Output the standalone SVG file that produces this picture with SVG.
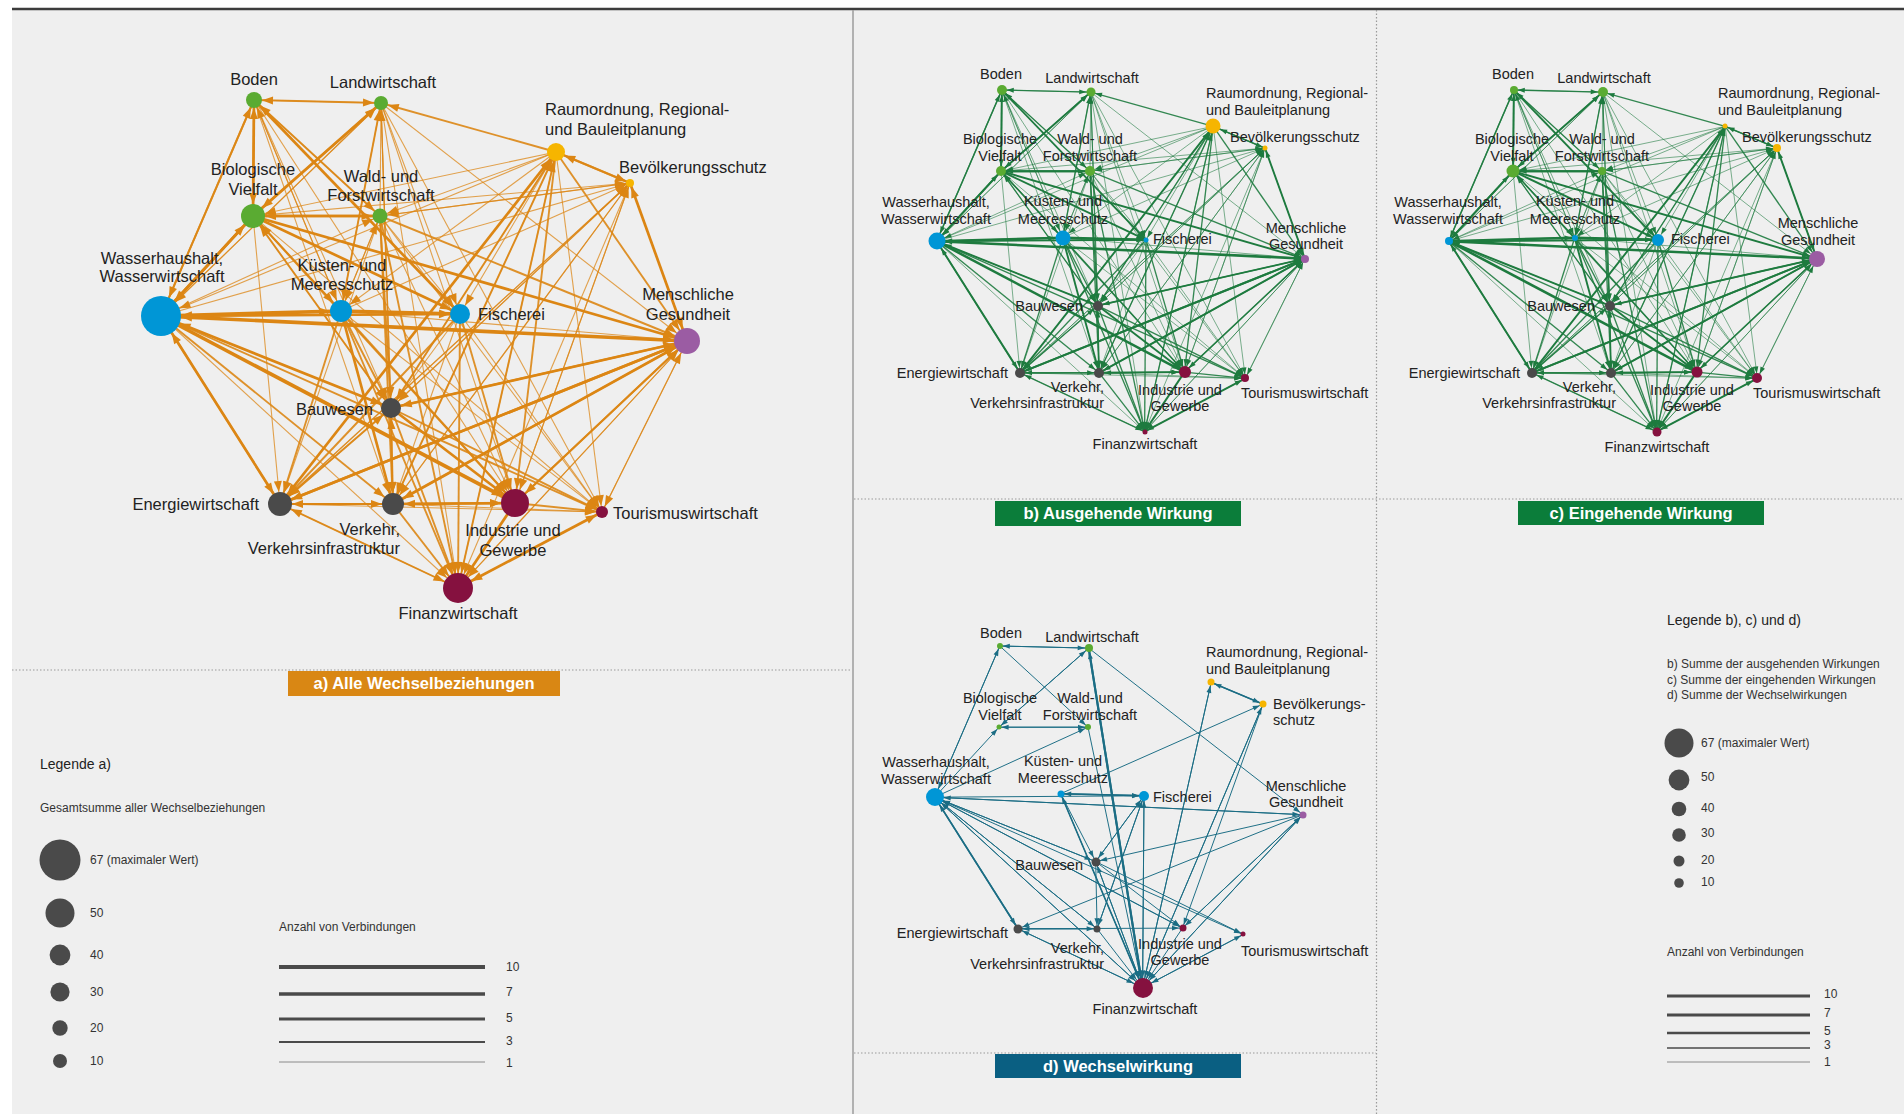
<svg xmlns="http://www.w3.org/2000/svg" width="1904" height="1114" viewBox="0 0 1904 1114">
<style>
marker{overflow:visible}
.cg{fill:#5aab32}.cy{fill:#f6b500}.cb{fill:#0096d6}.cp{fill:#9b5ca3}.cd{fill:#4a4a4a}.cm{fill:#85113f}
text{font-family:"Liberation Sans",Arial,sans-serif;fill:#222}
.la{font-size:16.5px}.lb{font-size:14.5px}.mid{text-anchor:middle}.end{text-anchor:end}
.ttl{font-size:16.5px;font-weight:bold;fill:#fff;text-anchor:middle}
.lg{font-size:12px;fill:#333}.lgh{font-size:14px;fill:#222}
.dot{stroke:#9a9a9a;stroke-width:1.2;stroke-dasharray:1.5 2;fill:none}
.lgc{fill:#4a4a4a}
</style>
<defs>
<marker id="ma0" markerUnits="userSpaceOnUse" orient="auto" refX="19" refY="4" markerWidth="11" markerHeight="8"><path d="M0 0L11 4L0 8z" fill="#dc8614"/></marker>
<marker id="ma1" markerUnits="userSpaceOnUse" orient="auto" refX="18" refY="4" markerWidth="11" markerHeight="8"><path d="M0 0L11 4L0 8z" fill="#dc8614"/></marker>
<marker id="ma2" markerUnits="userSpaceOnUse" orient="auto" refX="20" refY="4" markerWidth="11" markerHeight="8"><path d="M0 0L11 4L0 8z" fill="#dc8614"/></marker>
<marker id="ma3" markerUnits="userSpaceOnUse" orient="auto" refX="15" refY="4" markerWidth="11" markerHeight="8"><path d="M0 0L11 4L0 8z" fill="#dc8614"/></marker>
<marker id="ma4" markerUnits="userSpaceOnUse" orient="auto" refX="23" refY="4" markerWidth="11" markerHeight="8"><path d="M0 0L11 4L0 8z" fill="#dc8614"/></marker>
<marker id="ma5" markerUnits="userSpaceOnUse" orient="auto" refX="18.5" refY="4" markerWidth="11" markerHeight="8"><path d="M0 0L11 4L0 8z" fill="#dc8614"/></marker>
<marker id="ma6" markerUnits="userSpaceOnUse" orient="auto" refX="31" refY="4" markerWidth="11" markerHeight="8"><path d="M0 0L11 4L0 8z" fill="#dc8614"/></marker>
<marker id="ma7" markerUnits="userSpaceOnUse" orient="auto" refX="22" refY="4" markerWidth="11" markerHeight="8"><path d="M0 0L11 4L0 8z" fill="#dc8614"/></marker>
<marker id="ma8" markerUnits="userSpaceOnUse" orient="auto" refX="21" refY="4" markerWidth="11" markerHeight="8"><path d="M0 0L11 4L0 8z" fill="#dc8614"/></marker>
<marker id="ma9" markerUnits="userSpaceOnUse" orient="auto" refX="24" refY="4" markerWidth="11" markerHeight="8"><path d="M0 0L11 4L0 8z" fill="#dc8614"/></marker>
<marker id="ma10" markerUnits="userSpaceOnUse" orient="auto" refX="21" refY="4" markerWidth="11" markerHeight="8"><path d="M0 0L11 4L0 8z" fill="#dc8614"/></marker>
<marker id="ma11" markerUnits="userSpaceOnUse" orient="auto" refX="23" refY="4" markerWidth="11" markerHeight="8"><path d="M0 0L11 4L0 8z" fill="#dc8614"/></marker>
<marker id="ma12" markerUnits="userSpaceOnUse" orient="auto" refX="22" refY="4" markerWidth="11" markerHeight="8"><path d="M0 0L11 4L0 8z" fill="#dc8614"/></marker>
<marker id="ma13" markerUnits="userSpaceOnUse" orient="auto" refX="25" refY="4" markerWidth="11" markerHeight="8"><path d="M0 0L11 4L0 8z" fill="#dc8614"/></marker>
<marker id="ma14" markerUnits="userSpaceOnUse" orient="auto" refX="17" refY="4" markerWidth="11" markerHeight="8"><path d="M0 0L11 4L0 8z" fill="#dc8614"/></marker>
<marker id="ma15" markerUnits="userSpaceOnUse" orient="auto" refX="26" refY="4" markerWidth="11" markerHeight="8"><path d="M0 0L11 4L0 8z" fill="#dc8614"/></marker>

<marker id="mb0" markerUnits="userSpaceOnUse" orient="auto" refX="17.1" refY="3.5" markerWidth="10" markerHeight="7"><path d="M0 0L10 3.5L0 7z" fill="#1e7b3f"/></marker>
<marker id="mb1" markerUnits="userSpaceOnUse" orient="auto" refX="16.4" refY="3.5" markerWidth="10" markerHeight="7"><path d="M0 0L10 3.5L0 7z" fill="#1e7b3f"/></marker>
<marker id="mb2" markerUnits="userSpaceOnUse" orient="auto" refX="20.7" refY="3.5" markerWidth="10" markerHeight="7"><path d="M0 0L10 3.5L0 7z" fill="#1e7b3f"/></marker>
<marker id="mb3" markerUnits="userSpaceOnUse" orient="auto" refX="13.6" refY="3.5" markerWidth="10" markerHeight="7"><path d="M0 0L10 3.5L0 7z" fill="#1e7b3f"/></marker>
<marker id="mb4" markerUnits="userSpaceOnUse" orient="auto" refX="17.1" refY="3.5" markerWidth="10" markerHeight="7"><path d="M0 0L10 3.5L0 7z" fill="#1e7b3f"/></marker>
<marker id="mb5" markerUnits="userSpaceOnUse" orient="auto" refX="17.1" refY="3.5" markerWidth="10" markerHeight="7"><path d="M0 0L10 3.5L0 7z" fill="#1e7b3f"/></marker>
<marker id="mb6" markerUnits="userSpaceOnUse" orient="auto" refX="22.1" refY="3.5" markerWidth="10" markerHeight="7"><path d="M0 0L10 3.5L0 7z" fill="#1e7b3f"/></marker>
<marker id="mb7" markerUnits="userSpaceOnUse" orient="auto" refX="20.7" refY="3.5" markerWidth="10" markerHeight="7"><path d="M0 0L10 3.5L0 7z" fill="#1e7b3f"/></marker>
<marker id="mb8" markerUnits="userSpaceOnUse" orient="auto" refX="13.6" refY="3.5" markerWidth="10" markerHeight="7"><path d="M0 0L10 3.5L0 7z" fill="#1e7b3f"/></marker>
<marker id="mb9" markerUnits="userSpaceOnUse" orient="auto" refX="15.7" refY="3.5" markerWidth="10" markerHeight="7"><path d="M0 0L10 3.5L0 7z" fill="#1e7b3f"/></marker>
<marker id="mb10" markerUnits="userSpaceOnUse" orient="auto" refX="17.1" refY="3.5" markerWidth="10" markerHeight="7"><path d="M0 0L10 3.5L0 7z" fill="#1e7b3f"/></marker>
<marker id="mb11" markerUnits="userSpaceOnUse" orient="auto" refX="17.1" refY="3.5" markerWidth="10" markerHeight="7"><path d="M0 0L10 3.5L0 7z" fill="#1e7b3f"/></marker>
<marker id="mb12" markerUnits="userSpaceOnUse" orient="auto" refX="17.1" refY="3.5" markerWidth="10" markerHeight="7"><path d="M0 0L10 3.5L0 7z" fill="#1e7b3f"/></marker>
<marker id="mb13" markerUnits="userSpaceOnUse" orient="auto" refX="18.6" refY="3.5" markerWidth="10" markerHeight="7"><path d="M0 0L10 3.5L0 7z" fill="#1e7b3f"/></marker>
<marker id="mb14" markerUnits="userSpaceOnUse" orient="auto" refX="15.7" refY="3.5" markerWidth="10" markerHeight="7"><path d="M0 0L10 3.5L0 7z" fill="#1e7b3f"/></marker>
<marker id="mb15" markerUnits="userSpaceOnUse" orient="auto" refX="13.6" refY="3.5" markerWidth="10" markerHeight="7"><path d="M0 0L10 3.5L0 7z" fill="#1e7b3f"/></marker>

<marker id="mc0" markerUnits="userSpaceOnUse" orient="auto" refX="15.7" refY="3.5" markerWidth="10" markerHeight="7"><path d="M0 0L10 3.5L0 7z" fill="#1e7b3f"/></marker>
<marker id="mc1" markerUnits="userSpaceOnUse" orient="auto" refX="17.1" refY="3.5" markerWidth="10" markerHeight="7"><path d="M0 0L10 3.5L0 7z" fill="#1e7b3f"/></marker>
<marker id="mc2" markerUnits="userSpaceOnUse" orient="auto" refX="13.6" refY="3.5" markerWidth="10" markerHeight="7"><path d="M0 0L10 3.5L0 7z" fill="#1e7b3f"/></marker>
<marker id="mc3" markerUnits="userSpaceOnUse" orient="auto" refX="15.7" refY="3.5" markerWidth="10" markerHeight="7"><path d="M0 0L10 3.5L0 7z" fill="#1e7b3f"/></marker>
<marker id="mc4" markerUnits="userSpaceOnUse" orient="auto" refX="19.3" refY="3.5" markerWidth="10" markerHeight="7"><path d="M0 0L10 3.5L0 7z" fill="#1e7b3f"/></marker>
<marker id="mc5" markerUnits="userSpaceOnUse" orient="auto" refX="15.7" refY="3.5" markerWidth="10" markerHeight="7"><path d="M0 0L10 3.5L0 7z" fill="#1e7b3f"/></marker>
<marker id="mc6" markerUnits="userSpaceOnUse" orient="auto" refX="15.7" refY="3.5" markerWidth="10" markerHeight="7"><path d="M0 0L10 3.5L0 7z" fill="#1e7b3f"/></marker>
<marker id="mc7" markerUnits="userSpaceOnUse" orient="auto" refX="14.3" refY="3.5" markerWidth="10" markerHeight="7"><path d="M0 0L10 3.5L0 7z" fill="#1e7b3f"/></marker>
<marker id="mc8" markerUnits="userSpaceOnUse" orient="auto" refX="18.6" refY="3.5" markerWidth="10" markerHeight="7"><path d="M0 0L10 3.5L0 7z" fill="#1e7b3f"/></marker>
<marker id="mc9" markerUnits="userSpaceOnUse" orient="auto" refX="21.4" refY="3.5" markerWidth="10" markerHeight="7"><path d="M0 0L10 3.5L0 7z" fill="#1e7b3f"/></marker>
<marker id="mc10" markerUnits="userSpaceOnUse" orient="auto" refX="17.1" refY="3.5" markerWidth="10" markerHeight="7"><path d="M0 0L10 3.5L0 7z" fill="#1e7b3f"/></marker>
<marker id="mc11" markerUnits="userSpaceOnUse" orient="auto" refX="17.1" refY="3.5" markerWidth="10" markerHeight="7"><path d="M0 0L10 3.5L0 7z" fill="#1e7b3f"/></marker>
<marker id="mc12" markerUnits="userSpaceOnUse" orient="auto" refX="17.1" refY="3.5" markerWidth="10" markerHeight="7"><path d="M0 0L10 3.5L0 7z" fill="#1e7b3f"/></marker>
<marker id="mc13" markerUnits="userSpaceOnUse" orient="auto" refX="17.9" refY="3.5" markerWidth="10" markerHeight="7"><path d="M0 0L10 3.5L0 7z" fill="#1e7b3f"/></marker>
<marker id="mc14" markerUnits="userSpaceOnUse" orient="auto" refX="17.1" refY="3.5" markerWidth="10" markerHeight="7"><path d="M0 0L10 3.5L0 7z" fill="#1e7b3f"/></marker>
<marker id="mc15" markerUnits="userSpaceOnUse" orient="auto" refX="16.4" refY="3.5" markerWidth="10" markerHeight="7"><path d="M0 0L10 3.5L0 7z" fill="#1e7b3f"/></marker>

<marker id="md0" markerUnits="userSpaceOnUse" orient="auto" refX="14.3" refY="3.5" markerWidth="10" markerHeight="7"><path d="M0 0L10 3.5L0 7z" fill="#1b6d84"/></marker>
<marker id="md1" markerUnits="userSpaceOnUse" orient="auto" refX="15.7" refY="3.5" markerWidth="10" markerHeight="7"><path d="M0 0L10 3.5L0 7z" fill="#1b6d84"/></marker>
<marker id="md2" markerUnits="userSpaceOnUse" orient="auto" refX="15" refY="3.5" markerWidth="10" markerHeight="7"><path d="M0 0L10 3.5L0 7z" fill="#1b6d84"/></marker>
<marker id="md3" markerUnits="userSpaceOnUse" orient="auto" refX="15" refY="3.5" markerWidth="10" markerHeight="7"><path d="M0 0L10 3.5L0 7z" fill="#1b6d84"/></marker>
<marker id="md4" markerUnits="userSpaceOnUse" orient="auto" refX="13.6" refY="3.5" markerWidth="10" markerHeight="7"><path d="M0 0L10 3.5L0 7z" fill="#1b6d84"/></marker>
<marker id="md5" markerUnits="userSpaceOnUse" orient="auto" refX="14.3" refY="3.5" markerWidth="10" markerHeight="7"><path d="M0 0L10 3.5L0 7z" fill="#1b6d84"/></marker>
<marker id="md6" markerUnits="userSpaceOnUse" orient="auto" refX="22.9" refY="3.5" markerWidth="10" markerHeight="7"><path d="M0 0L10 3.5L0 7z" fill="#1b6d84"/></marker>
<marker id="md7" markerUnits="userSpaceOnUse" orient="auto" refX="15" refY="3.5" markerWidth="10" markerHeight="7"><path d="M0 0L10 3.5L0 7z" fill="#1b6d84"/></marker>
<marker id="md8" markerUnits="userSpaceOnUse" orient="auto" refX="17.1" refY="3.5" markerWidth="10" markerHeight="7"><path d="M0 0L10 3.5L0 7z" fill="#1b6d84"/></marker>
<marker id="md9" markerUnits="userSpaceOnUse" orient="auto" refX="15" refY="3.5" markerWidth="10" markerHeight="7"><path d="M0 0L10 3.5L0 7z" fill="#1b6d84"/></marker>
<marker id="md10" markerUnits="userSpaceOnUse" orient="auto" refX="16.4" refY="3.5" markerWidth="10" markerHeight="7"><path d="M0 0L10 3.5L0 7z" fill="#1b6d84"/></marker>
<marker id="md11" markerUnits="userSpaceOnUse" orient="auto" refX="16.4" refY="3.5" markerWidth="10" markerHeight="7"><path d="M0 0L10 3.5L0 7z" fill="#1b6d84"/></marker>
<marker id="md12" markerUnits="userSpaceOnUse" orient="auto" refX="15" refY="3.5" markerWidth="10" markerHeight="7"><path d="M0 0L10 3.5L0 7z" fill="#1b6d84"/></marker>
<marker id="md13" markerUnits="userSpaceOnUse" orient="auto" refX="15" refY="3.5" markerWidth="10" markerHeight="7"><path d="M0 0L10 3.5L0 7z" fill="#1b6d84"/></marker>
<marker id="md14" markerUnits="userSpaceOnUse" orient="auto" refX="13.6" refY="3.5" markerWidth="10" markerHeight="7"><path d="M0 0L10 3.5L0 7z" fill="#1b6d84"/></marker>
<marker id="md15" markerUnits="userSpaceOnUse" orient="auto" refX="24.3" refY="3.5" markerWidth="10" markerHeight="7"><path d="M0 0L10 3.5L0 7z" fill="#1b6d84"/></marker>

<g id="t0">
<g stroke-width="1.1" stroke-opacity=".75"><path d="M381 103L254 100"/><path d="M341 311L254 100"/><path d="M380 216L254 100"/></g>
<g stroke-width="1.9" stroke-opacity=".9"><path d="M161 316L254 100"/></g>
<g stroke-width="2.7"><path d="M253 216L254 100"/></g>
</g>
<g id="t1">
<g stroke-width="1.1" stroke-opacity=".75"><path d="M161 316L381 103"/><path d="M380 216L381 103"/><path d="M391 408L381 103"/></g>
<g stroke-width="1.9" stroke-opacity=".9"><path d="M254 100L381 103"/><path d="M556 152L381 103"/><path d="M341 311L381 103"/></g>
<g stroke-width="2.7"><path d="M253 216L381 103"/></g>
</g>
<g id="t2">
<g stroke-width="1.1" stroke-opacity=".75"><path d="M280 504L556 152"/><path d="M393 504L556 152"/><path d="M391 408L556 152"/><path d="M458 588L556 152"/></g>
<g stroke-width="1.9" stroke-opacity=".9"><path d="M630 183L556 152"/></g>
</g>
<g id="t3">
<g stroke-width="1.1" stroke-opacity=".75"><path d="M253 216L630 183"/><path d="M380 216L630 183"/><path d="M161 316L630 183"/><path d="M280 504L630 183"/><path d="M393 504L630 183"/><path d="M341 311L630 183"/><path d="M391 408L630 183"/><path d="M515 503L630 183"/></g>
<g stroke-width="1.9" stroke-opacity=".9"><path d="M556 152L630 183"/></g>
<g stroke-width="2.7"><path d="M687 341L630 183"/></g>
</g>
<g id="t4">
<g stroke-width="1.1" stroke-opacity=".75"><path d="M556 152L253 216"/><path d="M391 408L253 216"/></g>
<g stroke-width="1.9" stroke-opacity=".9"><path d="M254 100L253 216"/><path d="M381 103L253 216"/><path d="M341 311L253 216"/></g>
<g stroke-width="2.7"><path d="M380 216L253 216"/><path d="M161 316L253 216"/></g>
</g>
<g id="t5">
<g stroke-width="1.1" stroke-opacity=".75"><path d="M556 152L380 216"/><path d="M161 316L380 216"/><path d="M630 183L380 216"/><path d="M341 311L380 216"/></g>
<g stroke-width="1.9" stroke-opacity=".9"><path d="M254 100L380 216"/></g>
<g stroke-width="2.7"><path d="M253 216L380 216"/></g>
</g>
<g id="t6">
<g stroke-width="1.1" stroke-opacity=".75"><path d="M381 103L161 316"/><path d="M556 152L161 316"/><path d="M687 341L161 316"/><path d="M391 408L161 316"/></g>
<g stroke-width="1.9" stroke-opacity=".9"><path d="M254 100L161 316"/><path d="M280 504L161 316"/><path d="M341 311L161 316"/></g>
<g stroke-width="2.7"><path d="M253 216L161 316"/></g>
</g>
<g id="t7">
<g stroke-width="1.1" stroke-opacity=".75"><path d="M380 216L341 311"/><path d="M254 100L341 311"/><path d="M381 103L341 311"/><path d="M556 152L341 311"/><path d="M253 216L341 311"/></g>
<g stroke-width="3.6"><path d="M161 316L341 311"/></g>
</g>
<g id="t8">
<g stroke-width="1.1" stroke-opacity=".75"><path d="M381 103L460 314"/><path d="M556 152L460 314"/><path d="M380 216L460 314"/></g>
<g stroke-width="2.7"><path d="M254 100L460 314"/><path d="M253 216L460 314"/><path d="M161 316L460 314"/></g>
<g stroke-width="3.6"><path d="M341 311L460 314"/></g>
</g>
<g id="t9">
<g stroke-width="1.1" stroke-opacity=".75"><path d="M381 103L687 341"/><path d="M602 512L687 341"/><path d="M458 588L687 341"/><path d="M341 311L687 341"/><path d="M630 183L687 341"/></g>
<g stroke-width="1.9" stroke-opacity=".9"><path d="M380 216L687 341"/><path d="M556 152L687 341"/><path d="M515 503L687 341"/></g>
<g stroke-width="2.7"><path d="M253 216L687 341"/><path d="M391 408L687 341"/><path d="M280 504L687 341"/><path d="M393 504L687 341"/></g>
<g stroke-width="3.6"><path d="M161 316L687 341"/></g>
</g>
<g id="t10">
<g stroke-width="1.1" stroke-opacity=".75"><path d="M254 100L391 408"/><path d="M381 103L391 408"/><path d="M460 314L391 408"/><path d="M280 504L391 408"/><path d="M393 504L391 408"/><path d="M630 183L391 408"/></g>
<g stroke-width="1.9" stroke-opacity=".9"><path d="M556 152L391 408"/><path d="M253 216L391 408"/><path d="M380 216L391 408"/><path d="M341 311L391 408"/><path d="M687 341L391 408"/></g>
<g stroke-width="2.7"><path d="M161 316L391 408"/></g>
</g>
<g id="t11">
<g stroke-width="1.1" stroke-opacity=".75"><path d="M253 216L280 504"/><path d="M380 216L280 504"/><path d="M630 183L280 504"/><path d="M458 588L280 504"/></g>
<g stroke-width="1.9" stroke-opacity=".9"><path d="M341 311L280 504"/><path d="M460 314L280 504"/><path d="M391 408L280 504"/><path d="M393 504L280 504"/></g>
<g stroke-width="2.7"><path d="M556 152L280 504"/><path d="M161 316L280 504"/><path d="M687 341L280 504"/></g>
</g>
<g id="t12">
<g stroke-width="1.1" stroke-opacity=".75"><path d="M254 100L393 504"/><path d="M381 103L393 504"/><path d="M460 314L393 504"/><path d="M630 183L393 504"/></g>
<g stroke-width="1.9" stroke-opacity=".9"><path d="M556 152L393 504"/><path d="M380 216L393 504"/><path d="M161 316L393 504"/><path d="M687 341L393 504"/><path d="M391 408L393 504"/><path d="M280 504L393 504"/><path d="M515 503L393 504"/></g>
<g stroke-width="2.7"><path d="M341 311L393 504"/></g>
</g>
<g id="t13">
<g stroke-width="1.1" stroke-opacity=".75"><path d="M254 100L515 503"/><path d="M381 103L515 503"/><path d="M380 216L515 503"/><path d="M280 504L515 503"/><path d="M630 183L515 503"/></g>
<g stroke-width="1.9" stroke-opacity=".9"><path d="M556 152L515 503"/><path d="M253 216L515 503"/><path d="M341 311L515 503"/><path d="M460 314L515 503"/><path d="M687 341L515 503"/></g>
<g stroke-width="2.7"><path d="M391 408L515 503"/><path d="M393 504L515 503"/></g>
<g stroke-width="3.6"><path d="M161 316L515 503"/></g>
</g>
<g id="t14">
<g stroke-width="1.1" stroke-opacity=".75"><path d="M381 103L602 512"/><path d="M556 152L602 512"/><path d="M253 216L602 512"/><path d="M380 216L602 512"/><path d="M341 311L602 512"/><path d="M460 314L602 512"/><path d="M280 504L602 512"/><path d="M393 504L602 512"/><path d="M687 341L602 512"/><path d="M458 588L602 512"/></g>
<g stroke-width="1.9" stroke-opacity=".9"><path d="M161 316L602 512"/><path d="M391 408L602 512"/><path d="M515 503L602 512"/></g>
</g>
<g id="t15">
<g stroke-width="1.1" stroke-opacity=".75"><path d="M381 103L458 588"/><path d="M161 316L458 588"/><path d="M687 341L458 588"/><path d="M630 183L458 588"/></g>
<g stroke-width="1.9" stroke-opacity=".9"><path d="M556 152L458 588"/><path d="M380 216L458 588"/><path d="M341 311L458 588"/><path d="M460 314L458 588"/><path d="M391 408L458 588"/><path d="M280 504L458 588"/><path d="M393 504L458 588"/></g>
<g stroke-width="2.7"><path d="M515 503L458 588"/><path d="M602 512L458 588"/></g>
</g>
</defs>

<rect x="0" y="0" width="1904" height="1114" fill="#ffffff"/>
<rect x="12" y="10" width="1892" height="1104" fill="#efefef"/>
<line x1="12" y1="9" x2="1904" y2="9" stroke="#3c3c3c" stroke-width="2.5"/>
<line x1="853" y1="10" x2="853" y2="1114" stroke="#9c9c9c" stroke-width="1.5"/>
<line class="dot" x1="1376.5" y1="10" x2="1376.5" y2="1114"/>
<line class="dot" x1="12" y1="670" x2="852" y2="670"/>
<line class="dot" x1="854" y1="499" x2="1904" y2="499"/>
<line class="dot" x1="854" y1="1053" x2="1376" y2="1053"/>

<g id="connectors" fill="none">
<g id="edges-a" stroke="#dc8614">
<use href="#t0" marker-end="url(#ma0)"/><use href="#t1" marker-end="url(#ma1)"/><use href="#t2" marker-end="url(#ma2)"/><use href="#t3" marker-end="url(#ma3)"/>
<use href="#t4" marker-end="url(#ma4)"/><use href="#t5" marker-end="url(#ma5)"/><use href="#t6" marker-end="url(#ma6)"/><use href="#t7" marker-end="url(#ma7)"/>
<use href="#t8" marker-end="url(#ma8)"/><use href="#t9" marker-end="url(#ma9)"/><use href="#t10" marker-end="url(#ma10)"/><use href="#t11" marker-end="url(#ma11)"/>
<use href="#t12" marker-end="url(#ma12)"/><use href="#t13" marker-end="url(#ma13)"/><use href="#t14" marker-end="url(#ma14)"/><use href="#t15" marker-end="url(#ma15)"/>
</g>
<g id="edges-b" stroke="#1e7b3f" transform="translate(824 20) scale(.7)">
<use href="#t0" marker-end="url(#mb0)"/><use href="#t1" marker-end="url(#mb1)"/><use href="#t2" marker-end="url(#mb2)"/><use href="#t3" marker-end="url(#mb3)"/>
<use href="#t4" marker-end="url(#mb4)"/><use href="#t5" marker-end="url(#mb5)"/><use href="#t6" marker-end="url(#mb6)"/><use href="#t7" marker-end="url(#mb7)"/>
<use href="#t8" marker-end="url(#mb8)"/><use href="#t9" marker-end="url(#mb9)"/><use href="#t10" marker-end="url(#mb10)"/><use href="#t11" marker-end="url(#mb11)"/>
<use href="#t12" marker-end="url(#mb12)"/><use href="#t13" marker-end="url(#mb13)"/><use href="#t14" marker-end="url(#mb14)"/><use href="#t15" marker-end="url(#mb15)"/>
</g>
<g id="edges-c" stroke="#1e7b3f" transform="translate(1336 20) scale(.7)">
<use href="#t0" marker-end="url(#mc0)"/><use href="#t1" marker-end="url(#mc1)"/><use href="#t2" marker-end="url(#mc2)"/><use href="#t3" marker-end="url(#mc3)"/>
<use href="#t4" marker-end="url(#mc4)"/><use href="#t5" marker-end="url(#mc5)"/><use href="#t6" marker-end="url(#mc6)"/><use href="#t7" marker-end="url(#mc7)"/>
<use href="#t8" marker-end="url(#mc8)"/><use href="#t9" marker-end="url(#mc9)"/><use href="#t10" marker-end="url(#mc10)"/><use href="#t11" marker-end="url(#mc11)"/>
<use href="#t12" marker-end="url(#mc12)"/><use href="#t13" marker-end="url(#mc13)"/><use href="#t14" marker-end="url(#mc14)"/><use href="#t15" marker-end="url(#mc15)"/>
</g>
<g id="edges-d" stroke="#1b6d84" stroke-width="1.4" transform="translate(822 576) scale(.7)">
<g marker-end="url(#md0)"><path d="M381 103L254 100"/><path d="M161 316L254 100"/></g>
<g marker-end="url(#md1)"><path d="M254 100L381 103"/><path d="M253 216L381 103"/><path d="M458 588L381 103" stroke-width="3"/></g>
<g marker-end="url(#md2)"><path d="M630 183L556 152" stroke-width="2.2"/><path d="M458 588L556 152"/></g>
<g marker-end="url(#md3)"><path d="M556 152L630 183" stroke-width="2.2"/><path d="M341 311L630 183"/><path d="M458 588L630 183"/></g>
<g marker-end="url(#md4)"><path d="M381 103L253 216"/><path d="M380 216L253 216"/><path d="M161 316L253 216"/></g>
<g marker-end="url(#md5)"><path d="M254 100L380 216"/><path d="M253 216L380 216"/><path d="M161 316L380 216"/></g>
<g marker-end="url(#md6)"><path d="M254 100L161 316"/><path d="M391 408L161 316"/><path d="M393 504L161 316"/><path d="M458 588L161 316"/><path d="M687 341L161 316"/><path d="M515 503L161 316"/><path d="M280 504L161 316" stroke-width="2.2"/></g>
<g marker-end="url(#md7)"><path d="M460 314L341 311" stroke-width="2.2"/><path d="M458 588L341 311"/></g>
<g marker-end="url(#md8)"><path d="M341 311L460 314" stroke-width="2.2"/><path d="M161 316L460 314"/><path d="M391 408L460 314"/><path d="M393 504L460 314"/><path d="M458 588L460 314"/></g>
<g marker-end="url(#md9)"><path d="M381 103L687 341"/><path d="M161 316L687 341"/><path d="M458 588L687 341"/><path d="M515 503L687 341"/></g>
<g marker-end="url(#md10)"><path d="M161 316L391 408"/><path d="M341 311L391 408"/><path d="M460 314L391 408"/><path d="M687 341L391 408"/><path d="M458 588L391 408"/></g>
<g marker-end="url(#md11)"><path d="M161 316L280 504" stroke-width="2.2"/><path d="M687 341L280 504"/><path d="M393 504L280 504"/><path d="M458 588L280 504"/></g>
<g marker-end="url(#md12)"><path d="M161 316L393 504"/><path d="M460 314L393 504"/><path d="M391 408L393 504"/><path d="M280 504L393 504"/></g>
<g marker-end="url(#md13)"><path d="M161 316L515 503"/><path d="M391 408L515 503"/><path d="M280 504L515 503"/><path d="M630 183L515 503"/><path d="M687 341L515 503"/></g>
<g marker-end="url(#md14)"><path d="M161 316L602 512"/><path d="M391 408L602 512"/><path d="M458 588L602 512"/></g>
<g marker-end="url(#md15)"><path d="M381 103L458 588" stroke-width="3"/><path d="M341 311L458 588" stroke-width="2.2"/><path d="M380 216L458 588"/><path d="M460 314L458 588"/><path d="M556 152L458 588"/><path d="M630 183L458 588"/><path d="M687 341L458 588"/><path d="M391 408L458 588"/><path d="M280 504L458 588"/><path d="M393 504L458 588"/><path d="M515 503L458 588"/><path d="M602 512L458 588"/><path d="M161 316L458 588"/></g>
</g>
</g>

<g id="nodes-a">
<g id="a-boden"><circle class="cg" cx="254" cy="100" r="8"/><text class="la mid" x="254" y="85">Boden</text></g>
<g id="a-landwirtschaft"><circle class="cg" cx="381" cy="103" r="7"/><text class="la mid" x="383" y="88">Landwirtschaft</text></g>
<g id="a-raumordnung"><circle class="cy" cx="556" cy="152" r="9"/><text class="la" x="545" y="115">Raumordnung, Regional-</text><text class="la" x="545" y="135">und Bauleitplanung</text></g>
<g id="a-bevoelkerungsschutz"><circle class="cy" cx="630" cy="183" r="4"/><text class="la" x="619" y="173">Bevölkerungsschutz</text></g>
<g id="a-biologische-vielfalt"><circle class="cg" cx="253" cy="216" r="12"/><text class="la mid" x="253" y="175">Biologische</text><text class="la mid" x="253" y="195">Vielfalt</text></g>
<g id="a-wald"><circle class="cg" cx="380" cy="216" r="7.5"/><text class="la mid" x="381" y="182">Wald- und</text><text class="la mid" x="381" y="201">Forstwirtschaft</text></g>
<g id="a-wasser"><circle class="cb" cx="161" cy="316" r="20"/><text class="la mid" x="162" y="264">Wasserhaushalt,</text><text class="la mid" x="162" y="282">Wasserwirtschaft</text></g>
<g id="a-kuesten"><circle class="cb" cx="341" cy="311" r="11"/><text class="la mid" x="342" y="271">Küsten- und</text><text class="la mid" x="342" y="290">Meeresschutz</text></g>
<g id="a-fischerei"><circle class="cb" cx="460" cy="314" r="10"/><text class="la" x="478" y="320">Fischerei</text></g>
<g id="a-gesundheit"><circle class="cp" cx="687" cy="341" r="13"/><text class="la mid" x="688" y="300">Menschliche</text><text class="la mid" x="688" y="320">Gesundheit</text></g>
<g id="a-bauwesen"><circle class="cd" cx="391" cy="408" r="10"/><text class="la end" x="373" y="415">Bauwesen</text></g>
<g id="a-energie"><circle class="cd" cx="280" cy="504" r="12"/><text class="la end" x="259" y="510">Energiewirtschaft</text></g>
<g id="a-verkehr"><circle class="cd" cx="393" cy="504" r="11"/><text class="la end" x="400" y="535">Verkehr,</text><text class="la end" x="400" y="554">Verkehrsinfrastruktur</text></g>
<g id="a-industrie"><circle class="cm" cx="515" cy="503" r="14"/><text class="la mid" x="513" y="536">Industrie und</text><text class="la mid" x="513" y="556">Gewerbe</text></g>
<g id="a-tourismus"><circle class="cm" cx="602" cy="512" r="6"/><text class="la" x="613" y="519">Tourismuswirtschaft</text></g>
<g id="a-finanz"><circle class="cm" cx="458" cy="588" r="15"/><text class="la mid" x="458" y="619">Finanzwirtschaft</text></g>
</g>

<g id="nodes-b">
<g id="b-boden"><circle class="cg" cx="1002" cy="90" r="5"/><text class="lb mid" x="1001" y="79">Boden</text></g>
<g id="b-landwirtschaft"><circle class="cg" cx="1091" cy="92" r="4.5"/><text class="lb mid" x="1092" y="83">Landwirtschaft</text></g>
<g id="b-raumordnung"><circle class="cy" cx="1213" cy="126" r="7.5"/><text class="lb" x="1206" y="98">Raumordnung, Regional-</text><text class="lb" x="1206" y="115">und Bauleitplanung</text></g>
<g id="b-bevoelkerungsschutz"><circle class="cy" cx="1265" cy="148" r="2.5"/><text class="lb" x="1230" y="142">Bevölkerungsschutz</text></g>
<g id="b-biologische-vielfalt"><circle class="cg" cx="1001" cy="171" r="5"/><text class="lb mid" x="1000" y="144">Biologische</text><text class="lb mid" x="1000" y="161">Vielfalt</text></g>
<g id="b-wald"><circle class="cg" cx="1090" cy="171" r="5"/><text class="lb mid" x="1090" y="144">Wald- und</text><text class="lb mid" x="1090" y="161">Forstwirtschaft</text></g>
<g id="b-wasser"><circle class="cb" cx="937" cy="241" r="8.5"/><text class="lb mid" x="936" y="207">Wasserhaushalt,</text><text class="lb mid" x="936" y="224">Wasserwirtschaft</text></g>
<g id="b-kuesten"><circle class="cb" cx="1063" cy="238" r="7.5"/><text class="lb mid" x="1063" y="206">Küsten- und</text><text class="lb mid" x="1063" y="224">Meeresschutz</text></g>
<g id="b-fischerei"><circle class="cb" cx="1146" cy="240" r="2.5"/><text class="lb" x="1153" y="244">Fischerei</text></g>
<g id="b-gesundheit"><circle class="cp" cx="1305" cy="259" r="4"/><text class="lb mid" x="1306" y="233">Menschliche</text><text class="lb mid" x="1306" y="249">Gesundheit</text></g>
<g id="b-bauwesen"><circle class="cd" cx="1098" cy="306" r="5"/><text class="lb end" x="1083" y="311">Bauwesen</text></g>
<g id="b-energie"><circle class="cd" cx="1020" cy="373" r="5"/><text class="lb end" x="1008" y="378">Energiewirtschaft</text></g>
<g id="b-verkehr"><circle class="cd" cx="1099" cy="373" r="5"/><text class="lb end" x="1104" y="392">Verkehr,</text><text class="lb end" x="1104" y="408">Verkehrsinfrastruktur</text></g>
<g id="b-industrie"><circle class="cm" cx="1185" cy="372" r="6"/><text class="lb mid" x="1180" y="395">Industrie und</text><text class="lb mid" x="1180" y="411">Gewerbe</text></g>
<g id="b-tourismus"><circle class="cm" cx="1245" cy="378" r="4"/><text class="lb" x="1241" y="398">Tourismuswirtschaft</text></g>
<g id="b-finanz"><circle class="cm" cx="1145" cy="432" r="2.5"/><text class="lb mid" x="1145" y="449">Finanzwirtschaft</text></g>
</g>

<g id="nodes-c">
<g id="c-boden"><circle class="cg" cx="1514" cy="90" r="4"/><text class="lb mid" x="1513" y="79">Boden</text></g>
<g id="c-landwirtschaft"><circle class="cg" cx="1603" cy="92" r="5"/><text class="lb mid" x="1604" y="83">Landwirtschaft</text></g>
<g id="c-raumordnung"><circle class="cy" cx="1725" cy="126" r="2.5"/><text class="lb" x="1718" y="98">Raumordnung, Regional-</text><text class="lb" x="1718" y="115">und Bauleitplanung</text></g>
<g id="c-bevoelkerungsschutz"><circle class="cy" cx="1777" cy="148" r="4"/><text class="lb" x="1742" y="142">Bevölkerungsschutz</text></g>
<g id="c-biologische-vielfalt"><circle class="cg" cx="1513" cy="171" r="6.5"/><text class="lb mid" x="1512" y="144">Biologische</text><text class="lb mid" x="1512" y="161">Vielfalt</text></g>
<g id="c-wald"><circle class="cg" cx="1602" cy="171" r="4"/><text class="lb mid" x="1602" y="144">Wald- und</text><text class="lb mid" x="1602" y="161">Forstwirtschaft</text></g>
<g id="c-wasser"><circle class="cb" cx="1449" cy="241" r="4"/><text class="lb mid" x="1448" y="207">Wasserhaushalt,</text><text class="lb mid" x="1448" y="224">Wasserwirtschaft</text></g>
<g id="c-kuesten"><circle class="cb" cx="1575" cy="238" r="3"/><text class="lb mid" x="1575" y="206">Küsten- und</text><text class="lb mid" x="1575" y="224">Meeresschutz</text></g>
<g id="c-fischerei"><circle class="cb" cx="1658" cy="240" r="6"/><text class="lb" x="1671" y="244">Fischerei</text></g>
<g id="c-gesundheit"><circle class="cp" cx="1817" cy="259" r="8"/><text class="lb mid" x="1818" y="228">Menschliche</text><text class="lb mid" x="1818" y="245">Gesundheit</text></g>
<g id="c-bauwesen"><circle class="cd" cx="1610" cy="306" r="5"/><text class="lb end" x="1595" y="311">Bauwesen</text></g>
<g id="c-energie"><circle class="cd" cx="1532" cy="373" r="5"/><text class="lb end" x="1520" y="378">Energiewirtschaft</text></g>
<g id="c-verkehr"><circle class="cd" cx="1611" cy="373" r="5"/><text class="lb end" x="1616" y="392">Verkehr,</text><text class="lb end" x="1616" y="408">Verkehrsinfrastruktur</text></g>
<g id="c-industrie"><circle class="cm" cx="1697" cy="372" r="5.5"/><text class="lb mid" x="1692" y="395">Industrie und</text><text class="lb mid" x="1692" y="411">Gewerbe</text></g>
<g id="c-tourismus"><circle class="cm" cx="1757" cy="378" r="5"/><text class="lb" x="1753" y="398">Tourismuswirtschaft</text></g>
<g id="c-finanz"><circle class="cm" cx="1657" cy="432" r="4.5"/><text class="lb mid" x="1657" y="452">Finanzwirtschaft</text></g>
</g>

<g id="nodes-d">
<g id="d-boden"><circle class="cg" cx="1000" cy="646" r="3"/><text class="lb mid" x="1001" y="638">Boden</text></g>
<g id="d-landwirtschaft"><circle class="cg" cx="1089" cy="648" r="4"/><text class="lb mid" x="1092" y="642">Landwirtschaft</text></g>
<g id="d-raumordnung"><circle class="cy" cx="1211" cy="682" r="3.5"/><text class="lb" x="1206" y="657">Raumordnung, Regional-</text><text class="lb" x="1206" y="674">und Bauleitplanung</text></g>
<g id="d-bevoelkerungsschutz"><circle class="cy" cx="1263" cy="704" r="3.5"/><text class="lb" x="1273" y="709">Bevölkerungs-</text><text class="lb" x="1273" y="725">schutz</text></g>
<g id="d-biologische-vielfalt"><circle class="cg" cx="999" cy="727" r="2.5"/><text class="lb mid" x="1000" y="703">Biologische</text><text class="lb mid" x="1000" y="720">Vielfalt</text></g>
<g id="d-wald"><circle class="cg" cx="1088" cy="727" r="3"/><text class="lb mid" x="1090" y="703">Wald- und</text><text class="lb mid" x="1090" y="720">Forstwirtschaft</text></g>
<g id="d-wasser"><circle class="cb" cx="935" cy="797" r="9"/><text class="lb mid" x="936" y="767">Wasserhaushalt,</text><text class="lb mid" x="936" y="784">Wasserwirtschaft</text></g>
<g id="d-kuesten"><circle class="cb" cx="1061" cy="794" r="3.5"/><text class="lb mid" x="1063" y="766">Küsten- und</text><text class="lb mid" x="1063" y="783">Meeresschutz</text></g>
<g id="d-fischerei"><circle class="cb" cx="1144" cy="796" r="5"/><text class="lb" x="1153" y="802">Fischerei</text></g>
<g id="d-gesundheit"><circle class="cp" cx="1303" cy="815" r="3.5"/><text class="lb mid" x="1306" y="791">Menschliche</text><text class="lb mid" x="1306" y="807">Gesundheit</text></g>
<g id="d-bauwesen"><circle class="cd" cx="1096" cy="862" r="4.5"/><text class="lb end" x="1083" y="870">Bauwesen</text></g>
<g id="d-energie"><circle class="cd" cx="1018" cy="929" r="4.5"/><text class="lb end" x="1008" y="938">Energiewirtschaft</text></g>
<g id="d-verkehr"><circle class="cd" cx="1097" cy="929" r="3.5"/><text class="lb end" x="1104" y="953">Verkehr,</text><text class="lb end" x="1104" y="969">Verkehrsinfrastruktur</text></g>
<g id="d-industrie"><circle class="cm" cx="1183" cy="928" r="3.5"/><text class="lb mid" x="1180" y="949">Industrie und</text><text class="lb mid" x="1180" y="965">Gewerbe</text></g>
<g id="d-tourismus"><circle class="cm" cx="1243" cy="934" r="2.5"/><text class="lb" x="1241" y="956">Tourismuswirtschaft</text></g>
<g id="d-finanz"><circle class="cm" cx="1143" cy="988" r="10"/><text class="lb mid" x="1145" y="1014">Finanzwirtschaft</text></g>
</g>

<g id="titles">
<rect x="288" y="671" width="272" height="25" fill="#d98714"/><text class="ttl" x="424" y="689">a) Alle Wechselbeziehungen</text>
<rect x="995" y="501" width="246" height="25" fill="#0b7d3a"/><text class="ttl" x="1118" y="519">b) Ausgehende Wirkung</text>
<rect x="1518" y="501" width="246" height="24" fill="#0b7d3a"/><text class="ttl" x="1641" y="519">c) Eingehende Wirkung</text>
<rect x="995" y="1054" width="246" height="24" fill="#0a5f82"/><text class="ttl" x="1118" y="1072">d) Wechselwirkung</text>
</g>

<g id="legend-a">
<text class="lgh" x="40" y="769">Legende a)</text>
<text class="lg" x="40" y="812">Gesamtsumme aller Wechselbeziehungen</text>
<circle class="lgc" cx="60" cy="860" r="20.5"/><text class="lg" x="90" y="864">67 (maximaler Wert)</text>
<circle class="lgc" cx="60" cy="913" r="14.5"/><text class="lg" x="90" y="917">50</text>
<circle class="lgc" cx="60" cy="955" r="10.4"/><text class="lg" x="90" y="959">40</text>
<circle class="lgc" cx="60" cy="992" r="9.6"/><text class="lg" x="90" y="996">30</text>
<circle class="lgc" cx="60" cy="1028" r="7.7"/><text class="lg" x="90" y="1032">20</text>
<circle class="lgc" cx="60" cy="1061" r="7"/><text class="lg" x="90" y="1065">10</text>
<text class="lg" x="279" y="931">Anzahl von Verbindungen</text>
<line x1="279" y1="967" x2="485" y2="967" stroke="#4a4a4a" stroke-width="4"/><text class="lg" x="506" y="971">10</text>
<line x1="279" y1="994" x2="485" y2="994" stroke="#4a4a4a" stroke-width="3.5"/><text class="lg" x="506" y="996">7</text>
<line x1="279" y1="1019" x2="485" y2="1019" stroke="#4a4a4a" stroke-width="3"/><text class="lg" x="506" y="1022">5</text>
<line x1="279" y1="1042" x2="485" y2="1042" stroke="#4a4a4a" stroke-width="2"/><text class="lg" x="506" y="1045">3</text>
<line x1="279" y1="1062" x2="485" y2="1062" stroke="#8a8a8a" stroke-width="1"/><text class="lg" x="506" y="1067">1</text>
</g>

<g id="legend-bcd">
<text class="lgh" x="1667" y="625">Legende b), c) und d)</text>
<text class="lg" x="1667" y="668">b) Summe der ausgehenden Wirkungen</text>
<text class="lg" x="1667" y="684">c) Summe der eingehenden Wirkungen</text>
<text class="lg" x="1667" y="699">d) Summe der Wechselwirkungen</text>
<circle class="lgc" cx="1679" cy="743" r="14.5"/><text class="lg" x="1701" y="747">67 (maximaler Wert)</text>
<circle class="lgc" cx="1679" cy="780" r="10.4"/><text class="lg" x="1701" y="781">50</text>
<circle class="lgc" cx="1679" cy="809" r="7.3"/><text class="lg" x="1701" y="812">40</text>
<circle class="lgc" cx="1679" cy="835" r="6.8"/><text class="lg" x="1701" y="837">30</text>
<circle class="lgc" cx="1679" cy="861" r="5.5"/><text class="lg" x="1701" y="864">20</text>
<circle class="lgc" cx="1679" cy="883" r="4.8"/><text class="lg" x="1701" y="886">10</text>
<text class="lg" x="1667" y="956">Anzahl von Verbindungen</text>
<line x1="1667" y1="996" x2="1810" y2="996" stroke="#4a4a4a" stroke-width="3.2"/><text class="lg" x="1824" y="998">10</text>
<line x1="1667" y1="1015" x2="1810" y2="1015" stroke="#4a4a4a" stroke-width="3"/><text class="lg" x="1824" y="1017">7</text>
<line x1="1667" y1="1033" x2="1810" y2="1033" stroke="#4a4a4a" stroke-width="2.5"/><text class="lg" x="1824" y="1035">5</text>
<line x1="1667" y1="1048" x2="1810" y2="1048" stroke="#4a4a4a" stroke-width="1.6"/><text class="lg" x="1824" y="1049">3</text>
<line x1="1667" y1="1062" x2="1810" y2="1062" stroke="#8a8a8a" stroke-width="1"/><text class="lg" x="1824" y="1066">1</text>
</g>
</svg>
